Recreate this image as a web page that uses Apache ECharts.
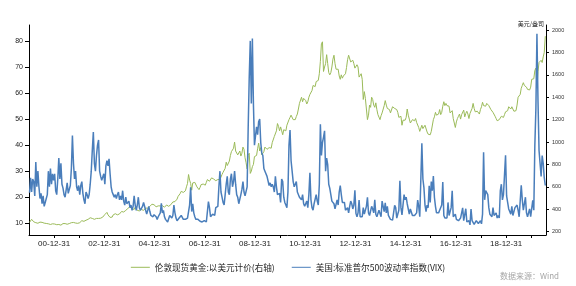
<!DOCTYPE html>
<html>
<head>
<meta charset="utf-8">
<script src="https://cdn.jsdelivr.net/npm/echarts@6/dist/echarts.min.js"></script>
<style>
html,body{margin:0;padding:0;background:#fff;}
#c{width:576px;height:286px;}
</style>
</head>
<body>
<div id="c"></div>
<script>
// Semi-monthly readings (two per month), starting Jan 2000
const startYear = 2000;
const goldName = '伦敦现货黄金:以美元计价(右轴)';
const vixName = '美国:标准普尔500波动率指数(VIX)';
const rightAxisName = '美元/盎司';
const sourceText = '数据来源：Wind';

const vixValues = [
// 2000
21.7,27.5, 22,27, 26,20.5, 33.5,24, 30,24, 19.5,21.5, 17.5,20.5, 16.5,18, 17.5,21, 30,24, 31,25, 29,26.5,
// 2001
29,22.5, 21,27, 35,27, 33,25, 23.5,21, 20,19.5, 25.5,21.5, 22,24.5, 31,43.7, 33,27, 30,24, 22.5,24.5,
// 2002
21,24.5, 26,21.5, 19,17.5, 22,21, 19.5,21, 25,30, 38,45, 33,30, 36,40, 42,30, 28,26.5, 27,29,
// 2003
25,32, 34,32, 34.7,29, 24,22, 21,20, 21,19.5, 21,22, 19,20.5, 19,22.5, 18.5,17, 20,17.5, 17,18.5,
// 2004
16,17, 15,16.5, 20.5,17, 15,17, 20,16, 15,14.5, 16.5,18, 17.5,15, 13.5,14, 16.5,14.5, 13,13.5, 12.5,13.3,
// 2005
14,12.5, 11.5,12.5, 12.5,14, 17.7,14, 15,12.5, 11.5,11, 10.5,11, 13,12.5, 12,13, 17,14, 12,11, 11,12,
// 2006
11.5,13, 12.5,11.5, 11,11.5, 11.5,12, 12,17, 23.8,14.5, 17.5,14, 12.5,11.5, 12,11.5, 11,10.8, 10.5,10.5, 10.5,11,
// 2007
11,10.5, 10.5,18.3, 16,12.5, 13,13.5, 13,13, 16,15.5, 16.5,24, 30,22, 20,18, 17,21, 25,28, 22,21,
// 2008
27,29, 24,26, 30,25, 21,20, 17.5,18, 21,23, 26,22, 20.5,20.5, 24,46.7, 66,80, 56,80.9, 56,40,
// 2009
40,47, 44,49, 50,41, 37,36, 31,30, 29,28, 28,24.5, 25.5,24, 25,24, 22,28, 24,21, 21.5,21.5,
// 2010
18,27, 26,20, 18,17, 16,22, 40,45.8, 34,30, 26,24, 25,26, 22,22, 20,20, 19,21, 17.5,16.5,
// 2011
16.5,18.5, 16,21, 29.4,19, 16,15, 17.5,17, 21,18.5, 17,25, 48,36, 41,43, 45.5,30, 35,32.5, 25,23.4,
// 2012
21,18.5, 18,17.5, 15.5,15.5, 19,17, 22,24.5, 21,18, 18.5,18, 15,14.5, 16,14, 16.5,18.5, 17.5,15.5, 17,22.7,
// 2013
13.8,12.5, 14,18.9, 12.5,13, 12.5,16, 13.5,13.7, 16.5,20, 14,13, 13,16.5, 15.5,14, 19,13.5, 12.5,13, 15,13.7,
// 2014
12.5,18.5, 19,14.5, 17.8,14, 16.5,13, 12.5,11.5, 11,11.2, 11.5,16.9, 16,12, 12.5,15, 26.3,16, 13.2,13, 21,19,
// 2015
20,17.5, 17.5,13.5, 15.5,15.5, 13,12.5, 13,12.4, 14,18.9, 16.5,12.5, 13,40.7, 27,23.6, 17,14.5, 17,16, 24.4,18,
// 2016
26,22.5, 28.1,20, 16.5,14, 13.5,14, 15,14.5, 17,25.8, 13,12, 11.5,12, 18,13, 13.5,16, 22.5,12.5, 12,13.5,
// 2017
11.5,11, 11,11.5, 12,11.5, 15.9,11, 10.5,15.6, 10.5,10, 11,9.4, 15.5,11, 11.5,9.6, 9.6,11, 10.5,9.9, 10,11,
// 2018
9.8,13.5, 37.3,19, 22.5,23, 21,16, 13.5,13, 12.5,16, 13,12.5, 14,12, 13,12, 22.5,25, 19,21, 21,36.1,
// 2019
20.5,18, 15.5,14.5, 13.5,16.5, 13,12.5, 16,16, 17,15, 12.5,13, 24.6,19, 15,15, 20,14, 12.5,12.5, 15.5,12.5,
// 2020
13,18.8, 15,40, 54,82.7, 57,38, 33,28, 36,33, 27.5,24.5
];

const goldValues = [
// 2000
283,288, 310,296, 288,282, 280,277, 275,273, 285,288, 283,280, 276,273, 273,275, 270,268, 264,268, 270,273,
// 2001
268,265, 262,258, 264,258, 258,262, 272,268, 272,270, 266,267, 272,275, 280,290, 282,278, 277,272, 274,278,
// 2002
280,283, 298,296, 292,296, 302,305, 310,320, 324,322, 318,305, 310,312, 318,322, 318,316, 320,318, 330,345,
// 2003
353,365, 372,350, 340,327, 325,330, 350,365, 360,346, 350,356, 358,370, 380,385, 375,390, 390,398, 407,413,
// 2004
424,410, 405,397, 398,418, 412,390, 380,385, 390,398, 402,390, 400,410, 404,410, 418,425, 435,445, 446,440,
// 2005
425,422, 418,430, 436,430, 428,432, 425,418, 425,438, 424,426, 436,440, 450,465, 470,468, 465,490, 515,505,
// 2006
540,560, 570,550, 555,565, 600,630, 710,660, 630,570, 635,640, 640,625, 600,585, 575,595, 620,630, 625,630,
// 2007
615,640, 665,680, 650,660, 680,685, 670,660, 655,652, 665,675, 665,668, 710,730, 745,765, 820,790, 800,830,
// 2008
880,915, 905,945, 1000,920, 915,885, 875,920, 875,900, 955,935, 860,815, 760,880, 900,720, 740,780, 800,870,
// 2009
855,880, 940,990, 920,950, 885,900, 915,955, 960,935, 925,950, 955,945, 995,1005, 1050,1055, 1100,1165, 1140,1100,
// 2010
1135,1100, 1065,1110, 1120,1100, 1150,1160, 1200,1220, 1240,1245, 1200,1185, 1200,1228, 1250,1295, 1345,1330, 1400,1360, 1390,1380,
// 2011
1370,1340, 1360,1400, 1425,1430, 1460,1505, 1510,1495, 1540,1530, 1550,1610, 1720,1877, 1895,1630, 1670,1700, 1780,1700, 1620,1600,
// 2012
1620,1670, 1740,1775, 1700,1650, 1640,1650, 1590,1560, 1600,1570, 1590,1575, 1610,1665, 1735,1775, 1785,1715, 1725,1730, 1700,1660,
// 2013
1655,1690, 1670,1580, 1580,1610, 1560,1380, 1450,1390, 1390,1200, 1240,1330, 1310,1400, 1380,1330, 1310,1350, 1290,1245, 1230,1200,
// 2014
1235,1260, 1260,1325, 1370,1330, 1300,1290, 1290,1260, 1250,1315, 1330,1300, 1310,1290, 1265,1220, 1210,1230, 1150,1195, 1200,1195,
// 2015
1220,1295, 1240,1205, 1170,1185, 1200,1190, 1190,1210, 1175,1180, 1130,1095, 1100,1150, 1120,1135, 1150,1165, 1090,1070, 1075,1065,
// 2016
1095,1100, 1200,1225, 1265,1240, 1235,1250, 1290,1245, 1265,1320, 1360,1325, 1345,1325, 1335,1320, 1260,1265, 1280,1210, 1170,1130,
// 2017
1180,1210, 1230,1250, 1205,1245, 1255,1285, 1225,1255, 1275,1250, 1210,1255, 1265,1300, 1345,1300, 1270,1285, 1275,1290, 1250,1290,
// 2018
1315,1355, 1325,1330, 1320,1345, 1335,1325, 1310,1290, 1300,1265, 1250,1230, 1210,1190, 1195,1200, 1190,1230, 1225,1220, 1245,1270,
// 2019
1285,1280, 1315,1330, 1295,1315, 1295,1275, 1285,1280, 1330,1400, 1400,1425, 1480,1505, 1530,1505, 1490,1490, 1470,1465, 1465,1490,
// 2020
1560,1560, 1565,1640, 1660,1480, 1630,1710, 1700,1730, 1710,1760, 1800,1945
];

const xTickYears = [2001,2002,2003,2004,2005,2006,2007,2008,2009,2010,2011,2012,2013,2014,2015,2016,2017,2018,2019,2020];
const xLabelYears = [2001,2003,2005,2007,2009,2011,2013,2015,2017,2019];
const leftTicks = [10,20,30,40,50,60,70,80];
const rightTicks = [200,400,600,800,1000,1200,1400,1600,1800,2000];

function toPairs(vals){
  return vals.map((v,i)=>[startYear + (i+0.5)/24, v]);
}
function pad2(n){ return (n<10?'0':'') + n; }

const chart = echarts.init(document.getElementById('c'), null, {renderer:'canvas'});
const axisColor = '#000';
chart.setOption({
  animation:false,
  backgroundColor:'#fff',
  grid:{left:29, right:30, top:25, bottom:51, containLabel:false},
  legend:{
    left:'center', top:258,
    itemWidth:19, itemHeight:1, itemGap:17, icon:'rect',
    textStyle:{fontSize:8.6, color:'#262626', fontFamily:'Noto Sans CJK SC'},
    data:[goldName, vixName]
  },
  graphic:[{
    type:'text', right:17, top:272,
    style:{text:sourceText, fontSize:8, fill:'#a6a6a6', fontFamily:'Noto Sans CJK SC'}
  }],
  xAxis:{
    type:'value', min:2000, max:2020.59,
    axisLine:{show:true, lineStyle:{color:axisColor, width:1}},
    axisTick:{show:true, length:3, lineStyle:{color:axisColor}, customValues:xTickYears},
    axisLabel:{fontSize:8, color:'#222', margin:5, fontFamily:'Liberation Sans',
      customValues:xLabelYears,
      formatter:(v)=> pad2((Math.round(v)-1)%100) + '-12-31'},
    splitLine:{show:false}
  },
  yAxis:[{
    type:'value', position:'left', min:5.5, max:86.1,
    axisLine:{show:true, lineStyle:{color:axisColor, width:1}},
    axisTick:{show:true, length:4, lineStyle:{color:axisColor}, customValues:leftTicks},
    axisLabel:{fontSize:7, color:'#222', margin:6, fontFamily:'Liberation Sans', customValues:leftTicks,
      formatter:(v)=>String(Math.round(v))},
    splitLine:{show:false}
  },{
    type:'value', position:'right', min:170, max:2045,
    name:rightAxisName, nameLocation:'end', nameGap:1,
    nameTextStyle:{fontSize:6, color:'#222', align:'right', verticalAlign:'middle', padding:[0,2,0,0], fontFamily:'Noto Sans CJK SC'},
    axisLine:{show:true, lineStyle:{color:axisColor, width:1}},
    axisTick:{show:true, length:3, lineStyle:{color:axisColor}, customValues:rightTicks},
    axisLabel:{fontSize:5.5, color:'#333', margin:6, fontFamily:'Liberation Sans', customValues:rightTicks,
      formatter:(v)=>String(Math.round(v))},
    splitLine:{show:false}
  }],
  series:[{
    name:goldName, type:'line', yAxisIndex:1, showSymbol:false, symbol:'none',
    lineStyle:{color:'#9bbb59', width:1}, itemStyle:{color:'#9bbb59'},
    data:toPairs(goldValues)
  },{
    name:vixName, type:'line', yAxisIndex:0, showSymbol:false, symbol:'none',
    lineStyle:{color:'#4a7ebb', width:1.5}, itemStyle:{color:'#4a7ebb'},
    data:toPairs(vixValues)
  }]
});
</script>
</body>
</html>
